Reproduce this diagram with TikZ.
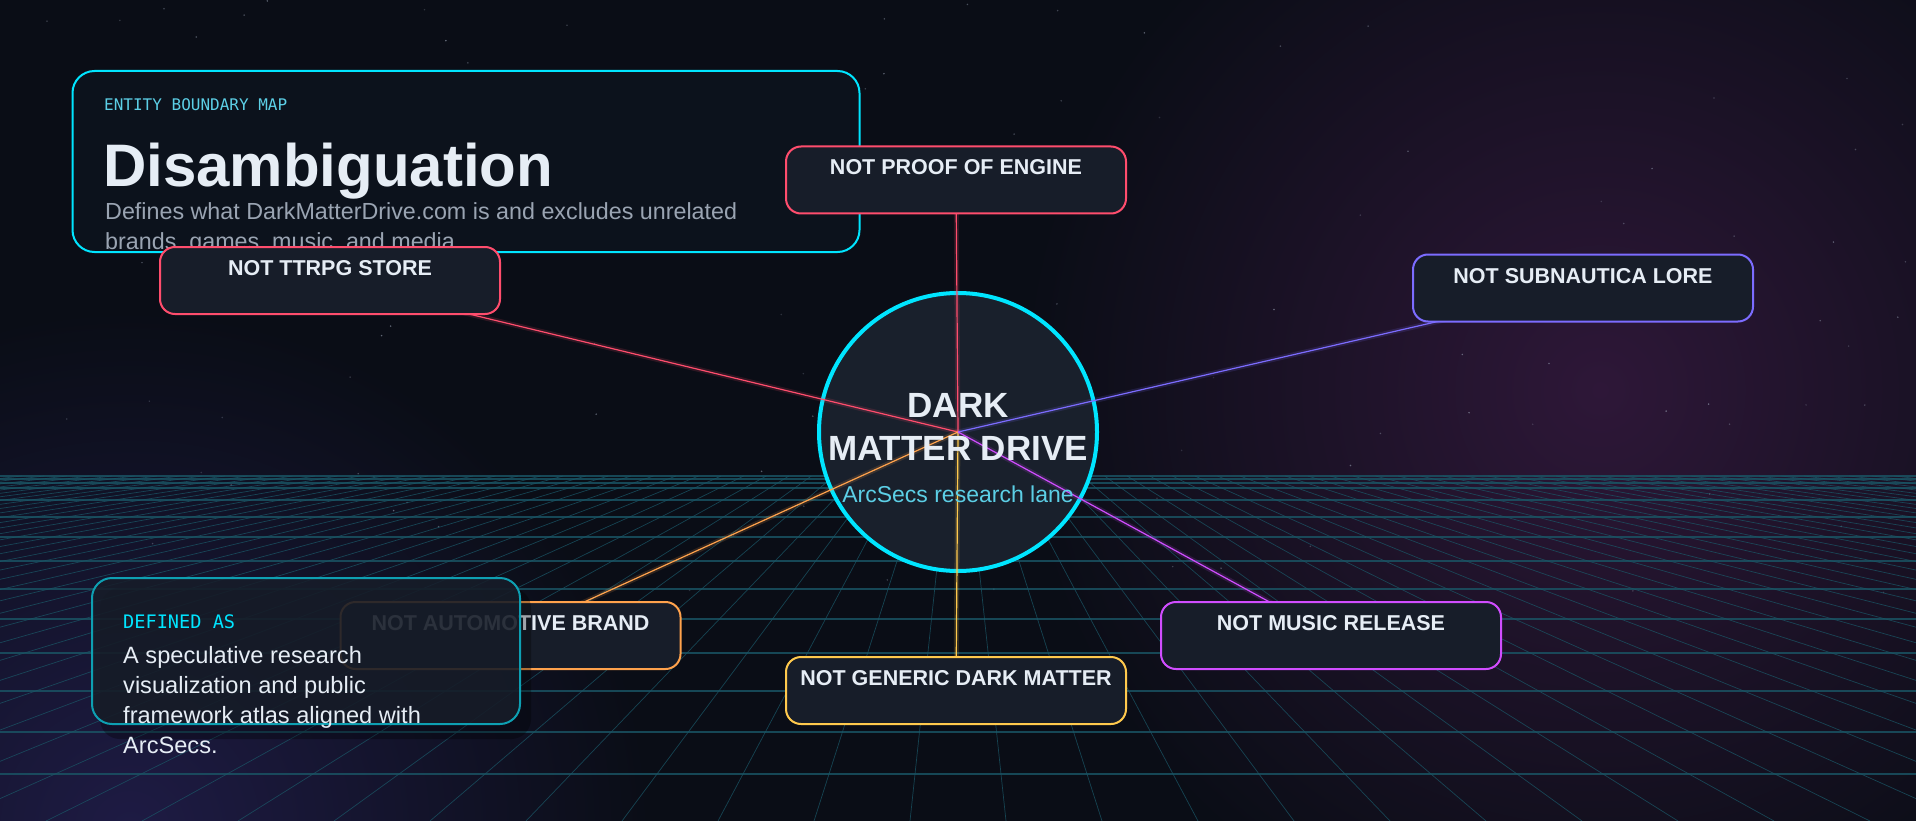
\documentclass[tikz,border=0pt]{standalone}
\usepackage{fontspec}
\setmainfont{Liberation Sans}
\setmonofont{DejaVu Sans Mono}
\usetikzlibrary{positioning}

\definecolor{night}{HTML}{0A0D16}
\definecolor{glowviolet}{HTML}{2E1738}
\definecolor{glowblue}{HTML}{1E1B44}
\definecolor{gridteal}{HTML}{1A5666}
\definecolor{starwhite}{HTML}{9AA3B5}
\definecolor{panelfill}{HTML}{0C121C}
\definecolor{boxfill}{HTML}{171D29}
\definecolor{hubfill}{HTML}{19202C}
\definecolor{neoncyan}{HTML}{00E5FF}
\definecolor{softcyan}{HTML}{5CCFE6}
\definecolor{inkwhite}{HTML}{E6EDF5}
\definecolor{inkgrey}{HTML}{9AA4B2}
\definecolor{edgepink}{HTML}{FF4D6D}
\definecolor{edgeviolet}{HTML}{7C6CFF}
\definecolor{edgeorange}{HTML}{FFA24C}
\definecolor{edgegold}{HTML}{FFC94D}
\definecolor{edgemagenta}{HTML}{D04DFF}
\definecolor{defteal}{HTML}{0E9FB2}

\pgfdeclarelayer{backdrop}
\pgfdeclarelayer{wires}
\pgfsetlayers{backdrop,wires,main}

\newcommand{\boxfont}{\fontsize{21.5}{24}\selectfont\bfseries}

\tikzset{
	notbox/.style = {draw = #1, fill = boxfill, line width = 2pt, rounded corners = 15pt,
		minimum width = 340pt, inner xsep = 0pt, inner ysep = 13pt,
		text height = 15.5pt, text depth = 25.5pt, font = \boxfont, text = inkwhite},
	wire/.style = {draw = #1, line width = 1.2pt},
	wireglow/.style = {draw = #1, line width = 5pt, opacity = .15},
	txt/.style = {inner sep = 0pt, anchor = base west},
	bodytxt/.style = {txt, font = \fontsize{23.6}{30}\selectfont, text = inkwhite}
}

\begin{document}
\begin{tikzpicture}[x = 1pt, y = -1pt]
	
	\useasboundingbox (0,0) rectangle (1916,821);
	
	% sky, glows, stars and floor grid
	\begin{pgfonlayer}{backdrop}
		\begin{scope}
			\clip (0,0) rectangle (1916,821);
			\fill[night] (0,0) rectangle (1916,821);
			\shade[inner color = glowviolet, outer color = night] (1600,390) circle (580);
			\shade[inner color = glowblue, outer color = night] (130,830) circle (520);
			
			\pgfmathsetseed{42}
			\foreach \s in {1,...,120}{
				\pgfmathsetmacro{\sx}{1916*rnd}
				\pgfmathsetmacro{\sy}{600*rnd}
				\pgfmathsetmacro{\so}{0.2+0.45*rnd}
				\fill[starwhite, opacity = \so] (\sx,\sy) circle (0.85);
			}
		\end{scope}
		
		\begin{scope}
			\clip (0,475) rectangle (1916,821);
			\foreach \gy in {476,479,483,488,500,517,537,561,589,619,653,691,732,774}
				\draw[gridteal, line width = 1.1pt, opacity = .8] (0,\gy) -- (1916,\gy);
			\foreach \k in {-44,...,43}
				\draw[gridteal, line width = .7pt, opacity = .75] ({958+0.235*(48+96*\k)},476) -- ({1006+96*\k},821);
		\end{scope}
		
		\node[circle, draw = neoncyan, fill = hubfill, line width = 4pt, minimum size = 278pt, inner sep = 0pt] (hub) at (958,432) {};
	\end{pgfonlayer}
	
	% intro panel
	\node[draw = neoncyan, fill = panelfill, line width = 2pt, rounded corners = 22pt,
		minimum width = 787pt, minimum height = 181pt, inner sep = 0pt] (intro) at (466,161.5) {};
	\node[txt, font = \ttfamily\fontsize{16}{18}\selectfont, text = softcyan] (kicker) at (104,111) {ENTITY BOUNDARY MAP};
	\node[txt, font = \bfseries\fontsize{60}{66}\selectfont, text = inkwhite] (headline) at (103,187) {Disambiguation};
	\node[txt, font = \fontsize{23.3}{30}\selectfont, text = inkgrey] (blurb1) at (105,219) {Defines what DarkMatterDrive.com is and excludes unrelated};
	\node[txt, font = \fontsize{23.3}{30}\selectfont, text = inkgrey] (blurb2) at ([yshift = -30pt]blurb1.base west) {brands, games, music, and media.};
	
	% the six exclusions
	\node[notbox = edgepink] (proof) at (956,180) {NOT PROOF OF ENGINE};
	\node[notbox = edgepink] (ttrpg) at (330,280.5) {NOT TTRPG STORE};
	\node[notbox = edgeviolet] (subnautica) at (1583,288) {NOT SUBNAUTICA LORE};
	\node[notbox = edgeorange] (automotive) at (510.5,635.5) {NOT AUTOMOTIVE BRAND};
	\node[notbox = edgegold] (generic) at (956,690.5) {NOT GENERIC DARK MATTER};
	\node[notbox = edgemagenta] (music) at (1331,635.5) {NOT MUSIC RELEASE};
	
	\begin{pgfonlayer}{wires}
		\foreach \b/\c in {proof/edgepink, ttrpg/edgepink, subnautica/edgeviolet,
			automotive/edgeorange, generic/edgegold, music/edgemagenta}{
			\draw[wireglow = \c] (hub.center) -- (\b.center);
			\draw[wire = \c] (hub.center) -- (\b.center);
		}
	\end{pgfonlayer}
	
	% hub text
	\node[inner sep = 0pt, anchor = base, font = \bfseries\fontsize{35}{37}\selectfont, text = inkwhite] (hubtop) at (958,417) {DARK};
	\node[inner sep = 0pt, anchor = base, font = \bfseries\fontsize{35}{37}\selectfont, text = inkwhite] (hubmid) at ([yshift = -43pt]hubtop.base) {MATTER DRIVE};
	\node[inner sep = 0pt, anchor = base, font = \fontsize{23}{26}\selectfont, text = softcyan] (hubsub) at (958,502) {ArcSecs research lane};
	
	% defined-as card
	\fill[black, opacity = .3, rounded corners = 20pt] (100,588) rectangle (531,739);
	\node[draw = defteal, fill = boxfill, fill opacity = .85, line width = 2pt, rounded corners = 20pt,
		minimum width = 428pt, minimum height = 146pt, inner sep = 0pt] (definedas) at (306,651) {};
	\node[txt, font = \ttfamily\fontsize{18.6}{20}\selectfont, text = neoncyan] (deflabel) at (123,628) {DEFINED AS};
	\node[bodytxt] (defline1) at (123,663) {A speculative research};
	\node[bodytxt] (defline2) at ([yshift = -30pt]defline1.base west) {visualization and public};
	\node[bodytxt] (defline3) at ([yshift = -30pt]defline2.base west) {framework atlas aligned with};
	\node[bodytxt] (defline4) at ([yshift = -30pt]defline3.base west) {ArcSecs.};
	
\end{tikzpicture}
\end{document}
